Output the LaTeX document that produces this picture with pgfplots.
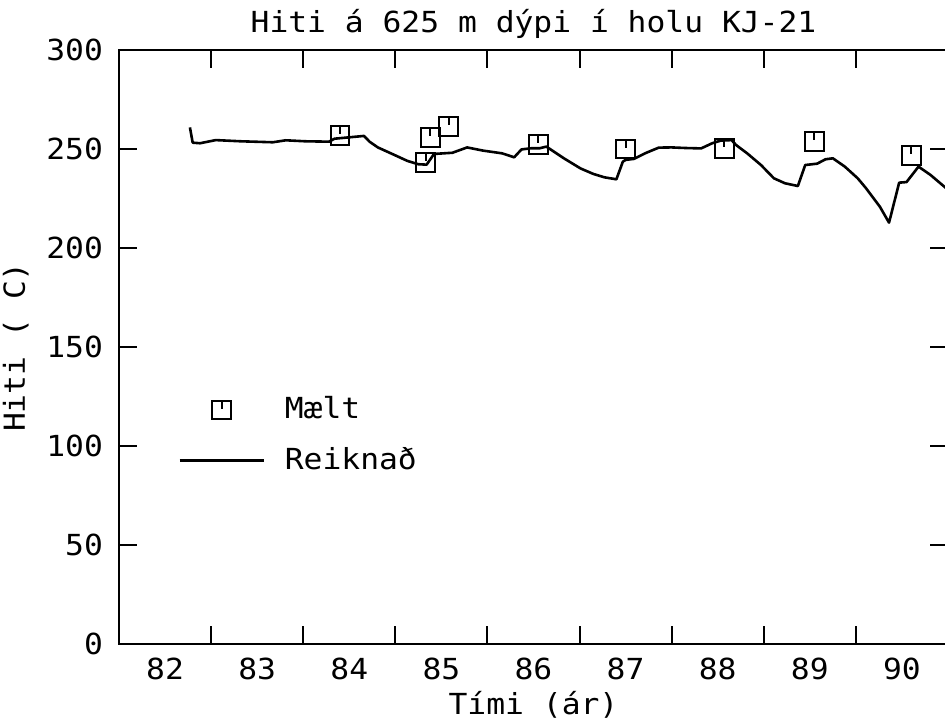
\documentclass[border=0pt]{standalone}
\usepackage{pgfplots}
\pgfplotsset{compat=1.18}
\usepackage{fontspec}
\setmainfont[FakeStretch=1.08]{DejaVu Sans Mono}
\usetikzlibrary{calc}

\pgfdeclareplotmark{sqtick}{%
  \pgfpathrectangle{\pgfpoint{-\pgfplotmarksize}{-\pgfplotmarksize}}{\pgfpoint{2\pgfplotmarksize}{2\pgfplotmarksize}}%
  \pgfpathmoveto{\pgfpoint{0pt}{\pgfplotmarksize}}%
  \pgfpathlineto{\pgfpoint{0pt}{0.15\pgfplotmarksize}}%
  \pgfusepathqstroke}

\begin{document}
\fontsize{14.5pt}{16pt}\selectfont
\begin{tikzpicture}
\begin{axis}[
  scale only axis,
  width=414.5pt, height=297pt,
  xmin=82, xmax=91, ymin=0, ymax=300,
  xtick={83,...,90}, xticklabels={},
  extra x ticks={82.5,83.5,...,90.5},
  extra x tick labels={82,83,84,85,86,87,88,89,90},
  extra x tick style={major tick length=0pt, xticklabel style={yshift=-2pt}},
  ytick={0,50,...,300},
  tick align=inside,
  major tick length=9pt,
  tick style={line width=1pt, black},
  axis line style={line width=1pt},
  /pgf/number format/assume math mode=true,
  yticklabel style={xshift=-3pt},
  title={Hiti á 625 m dýpi í holu KJ-21},
  title style={yshift=-5.5pt},
  xlabel={Tími (ár)},
  ylabel={Hiti ( C)},
  xlabel style={yshift=4pt},
  ylabel style={yshift=-1pt},
  legend image code/.code={\draw[mark repeat=2,mark phase=2,#1] plot coordinates {(0pt,0pt)(21pt,0pt)(42pt,0pt)};},
  legend style={draw=none, fill=none, at={(axis description cs:0.071,0.417)}, anchor=north west,
    inner sep=0pt, row sep=12pt, column sep=10pt, nodes={inner sep=0pt}, font=\fontsize{14.5pt}{16pt}\selectfont},
  legend cell align=left,
]
\addplot[only marks, mark=sqtick, mark size=4.7pt, mark options={line width=1pt, black}] coordinates {
(84.40,256.7) (85.38,255.7) (85.58,261.3) (85.33,243.3) (86.55,252.4)
(87.50,250.0) (88.57,250.2) (89.55,253.7) (90.60,246.7)
};
\addlegendentry{Mælt}
\addplot[black, line width=1.3pt, sharp plot, line join=round] coordinates {
(82.77,260.9) (82.80,253.2) (82.88,252.9) (83.05,254.5) (83.32,253.9)
(83.67,253.4) (83.81,254.4) (84.02,253.9) (84.28,253.7) (84.34,255.2)
(84.50,255.9) (84.66,256.6) (84.72,253.7) (84.81,250.8) (84.99,247.0)
(85.13,244.0) (85.25,242.3) (85.34,242.1) (85.42,247.5) (85.62,248.1)
(85.78,250.8) (85.95,249.2) (86.16,247.8) (86.29,245.8) (86.37,249.8)
(86.48,250.4) (86.57,250.4) (86.64,251.2) (86.83,245.3) (87.01,240.2)
(87.15,237.4) (87.27,235.7) (87.40,234.7) (87.47,243.6) (87.50,244.5)
(87.59,245.0) (87.71,247.8) (87.86,250.7) (88.00,250.8) (88.15,250.5)
(88.32,250.3) (88.44,252.9) (88.53,254.2) (88.65,254.5) (88.70,252.0)
(88.82,247.8) (88.97,241.9) (89.11,235.2) (89.23,232.7) (89.37,231.3)
(89.45,241.9) (89.58,242.6) (89.67,244.8) (89.75,245.3) (89.88,241.1)
(90.02,235.2) (90.11,230.2) (90.26,220.9) (90.36,212.8) (90.47,233.0)
(90.55,233.3) (90.68,241.1) (90.81,236.9) (90.98,230.2)
};
\addlegendentry{Reiknað}
\end{axis}
\pgfresetboundingbox
\path[use as bounding box] ($(current axis.south west)+(-59.5pt,-39pt)$) rectangle ++(472.5pt,361pt);
\end{tikzpicture}
\end{document}
